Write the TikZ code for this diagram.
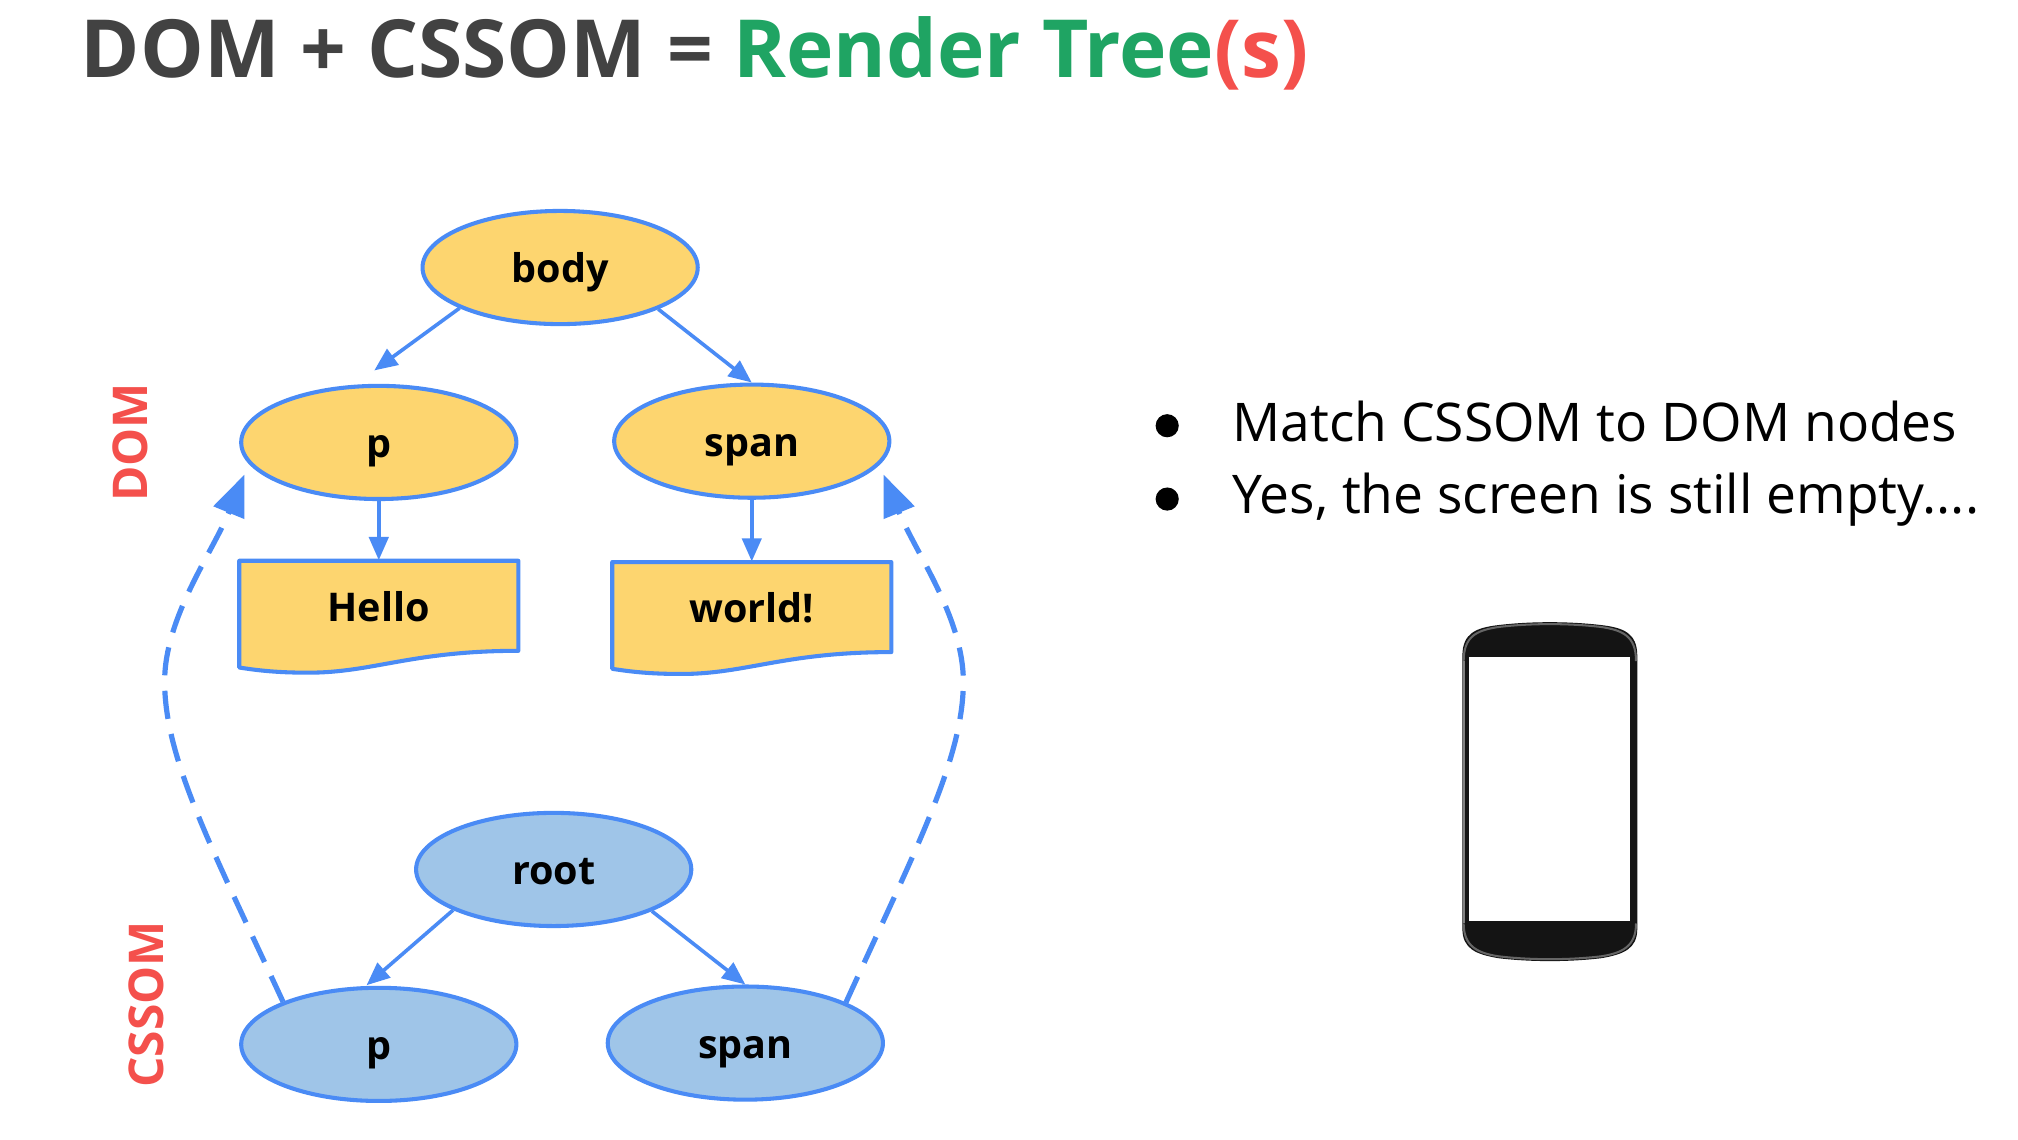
\documentclass[tikz,border=0pt]{standalone}
\usepackage{fontspec}
\setmainfont{Open Sans}
\usetikzlibrary{arrows.meta,shapes.geometric}
\definecolor{linkblue}{HTML}{4A8BF5}
\definecolor{domyellow}{HTML}{FDD56F}
\definecolor{cssblue}{HTML}{9FC5E8}
\definecolor{titlegray}{HTML}{424242}
\definecolor{titlegreen}{HTML}{1FA463}
\definecolor{alertred}{HTML}{F4504C}
\tikzset{
  x=0.02cm,y=-0.02cm,
  treeellipse/.style={ellipse,draw=linkblue,line width=1.8pt,minimum width=4.28cm,minimum height=1.76cm,inner sep=0pt,text height=13.6pt,text depth=0pt,font=\fontsize{17.5}{20}\selectfont\bfseries,text=black},
  domnode/.style={treeellipse,fill=domyellow},
  cssnode/.style={treeellipse,fill=cssblue},
  docshape/.style={draw=linkblue,line width=1.8pt,fill=domyellow,line join=round},
  doclabel/.style={rectangle,minimum width=4.34cm,minimum height=1.42cm,inner sep=0pt,outer sep=0pt,text height=13.6pt,text depth=0pt,font=\fontsize{17.5}{20}\selectfont\bfseries,text=black},
  link/.style={draw=linkblue,line width=1.6pt,-{Triangle[length=18*0.02cm,width=15*0.02cm]}},
  matchlink/.style={draw=linkblue,line width=2.3pt,dash pattern=on 22*0.02cm off 12*0.02cm,-{Triangle[length=32*0.02cm,width=25*0.02cm]}},
  sidelabel/.style={rotate=90,text=alertred,font=\fontsize{21.2}{24}\selectfont\bfseries,inner sep=0pt},
  bodytext/.style={anchor=base west,inner sep=0pt,font=\fontsize{23.6}{28}\selectfont,text=black},
  bulletdot/.style={circle,fill=black,minimum size=18*0.02cm,inner sep=0pt},
}
\begin{document}
\begin{tikzpicture}
\path[use as bounding box,fill=white] (0,0) rectangle (1569,886.3);
% title
\node[anchor=base west,inner sep=0pt,font=\fontsize{35.5}{42}\selectfont\bfseries] (title) at (62.5,60)
  {\textcolor{titlegray}{DOM + CSSOM = }\textcolor{titlegreen}{Render Tree}\textcolor{alertred}{(s)}};
% document shapes
\draw[docshape] (186,436) -- (403,436) -- (403,506) .. controls (320,506) and (290,523) .. (240,523) .. controls (220,523) and (205,522) .. (186,519) -- cycle;
\draw[docshape] (476,437) -- (693,437) -- (693,507) .. controls (610,507) and (580,524) .. (530,524) .. controls (510,524) and (495,523) .. (476,520) -- cycle;
% nodes
\node[domnode] (body) at (435.5,208) {body};
\node[domnode] (domp) at (294.5,344) {p};
\node[domnode] (domspan) at (584.5,343) {span};
\node[doclabel] (hello) at (294.5,471) {Hello};
\node[doclabel] (world) at (584.5,472) {world!};
\node[cssnode] (root) at (430.5,676) {root};
\node[cssnode] (cssp) at (294.5,812) {p};
\node[cssnode] (cssspan) at (579.5,811) {span};
\node[sidelabel] (domlabel) at (101,344) {DOM};
\node[sidelabel] (cssomlabel) at (114,781) {CSSOM};
% free ends
\coordinate (pend) at (291,288);
\coordinate (cpend) at (285,766);
\coordinate (tipleft) at (190,369);
\coordinate (tipright) at (687,369);
% connectors
\draw[link] (body.202.6) -- (pend);
\draw[link] (body.337.4) -- (domspan.north);
\draw[link] (domp.south) -- (hello.north);
\draw[link] (domspan.south) -- (world.north);
\draw[link] (root.202.8) -- (cpend);
\draw[link] (root.337.4) -- (cssspan.north);
\draw[matchlink] (cssp.156) .. controls (165,660) and (128,590) .. (128,530) .. controls (128,480) and (165,430) .. (tipleft);
\draw[matchlink] (cssspan.22.7) .. controls (712,660) and (749,590) .. (749,530) .. controls (749,480) and (712,430) .. (tipright);
% bullets
\node[bulletdot] (b1) at (907.5,331) {};
\node[bulletdot] (b2) at (907.5,388) {};
\node[bodytext] (t1) at (958,343) {Match CSSOM to DOM nodes};
\node[bodytext] (t2) at (958,399) {Yes, the screen is still empty....};
% phone
\path[fill=black!92] (1137,510) .. controls (1137,492) and (1148,488) .. (1165,486) .. controls (1190,483) and (1220,483) .. (1245,486) .. controls (1262,488) and (1273,492) .. (1273,510) -- (1273,722) .. controls (1273,738) and (1262,742) .. (1245,745) .. controls (1220,748) and (1190,748) .. (1165,745) .. controls (1148,742) and (1137,738) .. (1137,722) -- cycle;
\draw[black!60,line width=0.9pt] (1138,514) .. controls (1138,494) and (1149,490) .. (1165,487.5) .. controls (1190,484.5) and (1220,484.5) .. (1245,487.5) .. controls (1261,490) and (1272,494) .. (1272,514);
\draw[black!60,line width=0.9pt] (1138,718) .. controls (1138,736) and (1149,741) .. (1165,743.5) .. controls (1190,746.5) and (1220,746.5) .. (1245,743.5) .. controls (1261,741) and (1272,736) .. (1272,718);
\draw[black!50,line width=0.9pt] (1138.5,514) -- (1138.5,718);
\fill[white] (1142,511) rectangle (1267,716);
\end{tikzpicture}
\end{document}
